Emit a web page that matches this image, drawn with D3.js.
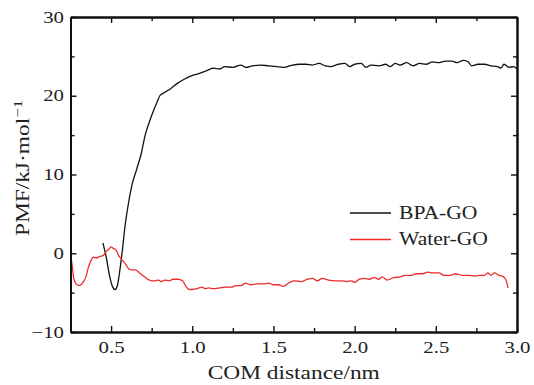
<!DOCTYPE html>
<html lang="en">
<head>
<meta charset="utf-8">
<title>PMF curves</title>
<script src="https://d3js.org/d3.v7.min.js"></script>
<style>
  body { margin: 0; background: #fff; }
  text { font-family: "Liberation Serif", "Times New Roman", serif; fill: #222; }
</style>
</head>
<body>
<script>
// BPA-GO curve (COM distance in nm, PMF in kJ/mol)
var bpaX = [0.45,0.47,0.49,0.51,0.525,0.54,0.555,0.57,0.585,0.61,0.63,0.655,0.685,0.71,0.75,0.785,0.80,0.82,0.86,0.91,
            0.95,0.99,1.04,1.09,1.13,1.17,1.2,1.25,1.3,1.33,1.37,1.42,1.47,1.52,1.56,1.6,1.66,1.7,1.74,1.78,
            1.82,1.85,1.9,1.94,1.97,2.0,2.04,2.07,2.1,2.15,2.19,2.22,2.25,2.28,2.32,2.36,2.4,2.44,2.48,2.52,
            2.56,2.6,2.63,2.67,2.7,2.72,2.76,2.8,2.84,2.88,2.9,2.92,2.95,2.98,3.0];
var bpaY = [1.3,-0.5,-2.8,-4.3,-4.6,-4.0,-2.0,0.5,3.3,6.7,8.8,10.5,12.6,15.0,17.5,19.3,20.0,20.3,20.8,21.6,
            22.1,22.5,22.8,23.2,23.5,23.4,23.7,23.6,23.9,23.6,23.8,23.9,23.8,23.7,23.6,23.8,24.0,24.0,23.9,24.1,
            23.8,23.7,24.0,24.1,23.7,24.0,24.1,23.6,23.9,23.8,24.0,23.7,24.1,23.9,24.2,23.8,24.1,24.0,24.3,24.2,
            24.4,24.4,24.2,24.5,24.3,23.8,24.0,24.0,23.8,23.7,23.5,24.0,23.6,23.7,23.4];

// Water-GO curve
var waterX = [0.25,0.26,0.27,0.285,0.30,0.315,0.33,0.345,0.36,0.375,0.39,0.41,0.43,0.45,0.47,0.49,0.50,0.515,0.53,0.55,
              0.57,0.59,0.61,0.63,0.65,0.67,0.70,0.725,0.75,0.77,0.79,0.81,0.83,0.86,0.88,0.91,0.94,0.96,0.98,1.0,
              1.03,1.06,1.08,1.1,1.13,1.17,1.2,1.24,1.27,1.3,1.33,1.36,1.4,1.44,1.47,1.5,1.53,1.56,1.6,1.63,
              1.67,1.71,1.74,1.77,1.8,1.84,1.88,1.92,1.95,1.98,2.0,2.03,2.06,2.09,2.12,2.15,2.17,2.2,2.24,2.28,
              2.31,2.35,2.38,2.42,2.45,2.48,2.52,2.55,2.59,2.62,2.66,2.7,2.74,2.77,2.8,2.82,2.84,2.86,2.89,2.91,
              2.93,2.945];
var waterY = [0.0,-1.5,-3.2,-3.9,-4.1,-4.0,-3.6,-3.0,-1.8,-1.0,-0.5,-0.6,-0.4,-0.3,0.2,0.6,0.8,0.6,0.4,-0.4,
              -0.9,-1.4,-2.0,-2.1,-2.1,-2.4,-2.9,-3.3,-3.5,-3.5,-3.4,-3.6,-3.4,-3.5,-3.3,-3.3,-3.5,-4.2,-4.6,-4.6,
              -4.5,-4.3,-4.5,-4.4,-4.5,-4.4,-4.3,-4.3,-4.1,-4.1,-3.8,-4.0,-3.9,-3.9,-3.8,-4.0,-4.0,-4.2,-3.7,-3.5,
              -3.6,-3.3,-3.2,-3.5,-3.2,-3.4,-3.5,-3.5,-3.6,-3.5,-3.7,-3.3,-3.2,-3.3,-3.1,-3.3,-3.0,-3.4,-3.1,-3.0,
              -2.8,-2.8,-2.6,-2.6,-2.4,-2.5,-2.5,-2.8,-2.8,-2.6,-2.8,-2.8,-2.9,-2.8,-2.8,-2.5,-2.8,-2.5,-2.8,-2.9,
              -3.3,-4.4];

var xMajor = [0.5, 1.0, 1.5, 2.0, 2.5, 3.0];
var xMinor = [0.75, 1.25, 1.75, 2.25, 2.75];
var yMajor = [-10, 0, 10, 20, 30];
var yMinor = [-5, 5, 15, 25];
var seriesNames = ["BPA-GO", "Water-GO"];

var width = 534, height = 385;
var mLeft = 70.5, mRight = 517, mTop = 17, mBottom = 332;
var sx = 1.3; // horizontal stretch of the lettering

var x = d3.scaleLinear().domain([0.25, 3.0]).range([mLeft, mRight]);
var y = d3.scaleLinear().domain([-10, 30]).range([mBottom, mTop]);

var svg = d3.select("body").append("svg")
    .attr("width", width)
    .attr("height", height);

var line = d3.line()
    .x(function(d) { return x(d[0]); })
    .y(function(d) { return y(d[1]); })
    .curve(d3.curveMonotoneX);

var bpa = bpaX.map(function(v, i) { return [v, bpaY[i]]; });
var water = waterX.map(function(v, i) { return [v, waterY[i]]; });

svg.append("path").datum(bpa)
    .attr("d", line)
    .attr("fill", "none")
    .attr("stroke", "#111")
    .attr("stroke-width", 1.3);

svg.append("path").datum(water)
    .attr("d", line)
    .attr("fill", "none")
    .attr("stroke", "#ee2a2a")
    .attr("stroke-width", 1.3);

// axes: ticks point inward on all four sides
function styleAxis(g) {
  g.attr("font-family", null).attr("font-size", null);
  g.select(".domain").attr("stroke", "#111").attr("stroke-width", 2);
  g.selectAll(".tick line").attr("stroke", "#111").attr("stroke-width", 1.4);
  g.selectAll(".tick text").attr("font-size", 16).attr("fill", "#222");
}

var gx = svg.append("g").attr("transform", "translate(0," + mBottom + ")")
    .call(d3.axisBottom(x).tickValues(xMajor).tickSizeInner(-6).tickSizeOuter(0)
      .tickPadding(10).tickFormat(d3.format(".1f")));
styleAxis(gx);
gx.selectAll(".tick text").attr("transform", "scale(" + sx + ",1)");

var gx2 = svg.append("g").attr("transform", "translate(0," + mBottom + ")")
    .call(d3.axisBottom(x).tickValues(xMinor).tickSizeInner(-4).tickSizeOuter(0).tickFormat(""));
styleAxis(gx2);

var gt = svg.append("g").attr("transform", "translate(0," + mTop + ")")
    .call(d3.axisTop(x).tickValues(xMajor).tickSizeInner(-6).tickSizeOuter(0).tickFormat(""));
styleAxis(gt);
var gt2 = svg.append("g").attr("transform", "translate(0," + mTop + ")")
    .call(d3.axisTop(x).tickValues(xMinor).tickSizeInner(-4).tickSizeOuter(0).tickFormat(""));
styleAxis(gt2);

var gy = svg.append("g").attr("transform", "translate(" + mLeft + ",0)")
    .call(d3.axisLeft(y).tickValues(yMajor).tickSizeInner(-6).tickSizeOuter(0)
      .tickPadding(5).tickFormat(function(d) { return d < 0 ? "\u2212" + Math.abs(d) : d; }));
styleAxis(gy);
gy.selectAll(".tick text").attr("transform", "scale(" + sx + ",1)");

var gy2 = svg.append("g").attr("transform", "translate(" + mLeft + ",0)")
    .call(d3.axisLeft(y).tickValues(yMinor).tickSizeInner(-4).tickSizeOuter(0).tickFormat(""));
styleAxis(gy2);

var gr = svg.append("g").attr("transform", "translate(" + mRight + ",0)")
    .call(d3.axisRight(y).tickValues(yMajor).tickSizeInner(-6).tickSizeOuter(0).tickFormat(""));
styleAxis(gr);
var gr2 = svg.append("g").attr("transform", "translate(" + mRight + ",0)")
    .call(d3.axisRight(y).tickValues(yMinor).tickSizeInner(-4).tickSizeOuter(0).tickFormat(""));
styleAxis(gr2);

// axis titles
svg.append("text")
    .attr("transform", "translate(" + ((mLeft + mRight) / 2) + ",379) scale(" + sx + ",1)")
    .attr("text-anchor", "middle")
    .attr("font-size", 18)
    .text("COM distance/nm");

var yt = svg.append("text")
    .attr("transform", "translate(29,168) rotate(-90) scale(" + sx + ",1)")
    .attr("text-anchor", "middle")
    .attr("font-size", 18);
yt.append("tspan").text("PMF/kJ\u00b7mol");
yt.append("tspan").attr("font-size", 13).attr("dy", -7).text("\u22121");

// legend
var legendColors = ["#111", "#ee2a2a"];
var lg = svg.append("g").attr("transform", "translate(350,213)");
seriesNames.forEach(function(name, i) {
  var row = lg.append("g").attr("transform", "translate(0," + (i * 26.5) + ")");
  row.append("line")
      .attr("x1", 0).attr("x2", 41)
      .attr("stroke", legendColors[i])
      .attr("stroke-width", 1.3);
  row.append("text")
      .attr("transform", "translate(49,5.5) scale(1.2,1)")
      .attr("font-size", 18)
      .text(name);
});
</script>
</body>
</html>
